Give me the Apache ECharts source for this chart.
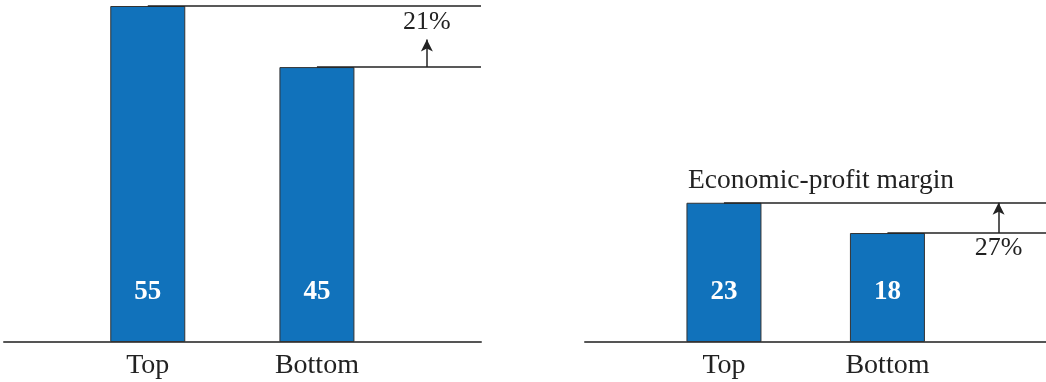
<!DOCTYPE html>
<html>
<head>
<meta charset="utf-8">
<script src="https://cdn.jsdelivr.net/npm/echarts@6/dist/echarts.min.js"></script>
<style>
  html, body { margin: 0; padding: 0; background: #fff; }
  #chart { width: 1046px; height: 382px; }
</style>
</head>
<body>
<div id="chart"></div>
<script>
// Two panels: an index (left) and economic-profit margin (right), top vs bottom performers
const categories = ['Top', 'Bottom'];
const leftValues = [55, 45];
const rightValues = [23, 18];
const leftGapLabel = '21%';
const rightGapLabel = '27%';
const rightTitle = 'Economic-profit margin';

const FONT = '"Liberation Serif", "DejaVu Serif", serif';
const BAR_COLOR = '#1172BB';
const INK = '#222';
const X_MIN = 0.15, X_MAX = 2.97;   // x extent on each panel's value axis
const catPos = categories.map((c, i) => i + 1);

function xAxisFor(gridIndex) {
  return {
    type: 'value', gridIndex, min: X_MIN, max: X_MAX,
    axisLine: { show: true, onZero: false, lineStyle: { color: '#555', width: 2 } },
    axisTick: { show: false },
    splitLine: { show: false },
    axisLabel: {
      customValues: catPos,
      formatter: v => categories[Math.round(v) - 1] || '',
      fontFamily: FONT, fontSize: 28, color: INK, margin: 10
    }
  };
}

function yAxisFor(gridIndex, max) {
  return { type: 'value', gridIndex, min: 0, max, show: false, splitLine: { show: false } };
}

function panelSeries(idx, values, arrowX, arrowFrom, arrowTo, gapLabel, labelPos, labelDist) {
  return {
    type: 'bar', xAxisIndex: idx, yAxisIndex: idx,
    data: values.map((v, i) => [catPos[i], v]),
    barWidth: 75,
    itemStyle: { color: BAR_COLOR, borderColor: '#333', borderWidth: 1 },
    label: {
      show: true, position: 'insideBottom', distance: 36,
      formatter: p => p.value[1],
      fontFamily: FONT, fontSize: 27, fontWeight: 'bold', color: '#fff'
    },
    markLine: {
      silent: true, animation: false, symbol: 'none',
      lineStyle: { color: INK, width: 1.5, type: 'solid' },
      label: { show: false },
      data: [
        [{ coord: [catPos[0], values[0]] }, { coord: [X_MAX, values[0]] }],
        [{ coord: [catPos[1], values[1]] }, { coord: [X_MAX, values[1]] }],
        [
          {
            coord: [arrowX, arrowFrom], symbol: 'none',
            lineStyle: { color: INK, width: 1.5, type: 'solid' },
            label: {
              show: true, position: labelPos, distance: labelDist,
              formatter: gapLabel, fontFamily: FONT, fontSize: 26, color: INK
            }
          },
          { coord: [arrowX, arrowTo], symbol: 'arrow', symbolSize: [9, 12] }
        ]
      ]
    }
  };
}

const chart = echarts.init(document.getElementById('chart'), null, { renderer: 'canvas' });
chart.setOption({
  animation: false,
  backgroundColor: '#fff',
  title: {
    text: rightTitle, left: 683, top: 162,
    textStyle: { fontFamily: FONT, fontSize: 27.5, fontWeight: 'normal', color: INK }
  },
  grid: [
    { left: 4, right: 565, top: 6, bottom: 40 },
    { left: 585, right: 0, top: 6, bottom: 40 }
  ],
  xAxis: [xAxisFor(0), xAxisFor(1)],
  yAxis: [yAxisFor(0, 55), yAxisFor(1, 55.5)],
  series: [
    panelSeries(0, leftValues, 2.65, leftValues[1], 49.5, leftGapLabel, 'end', 4),
    panelSeries(1, rightValues, 2.68, rightValues[1], rightValues[0], rightGapLabel, 'start', 2)
  ]
});
</script>
</body>
</html>
